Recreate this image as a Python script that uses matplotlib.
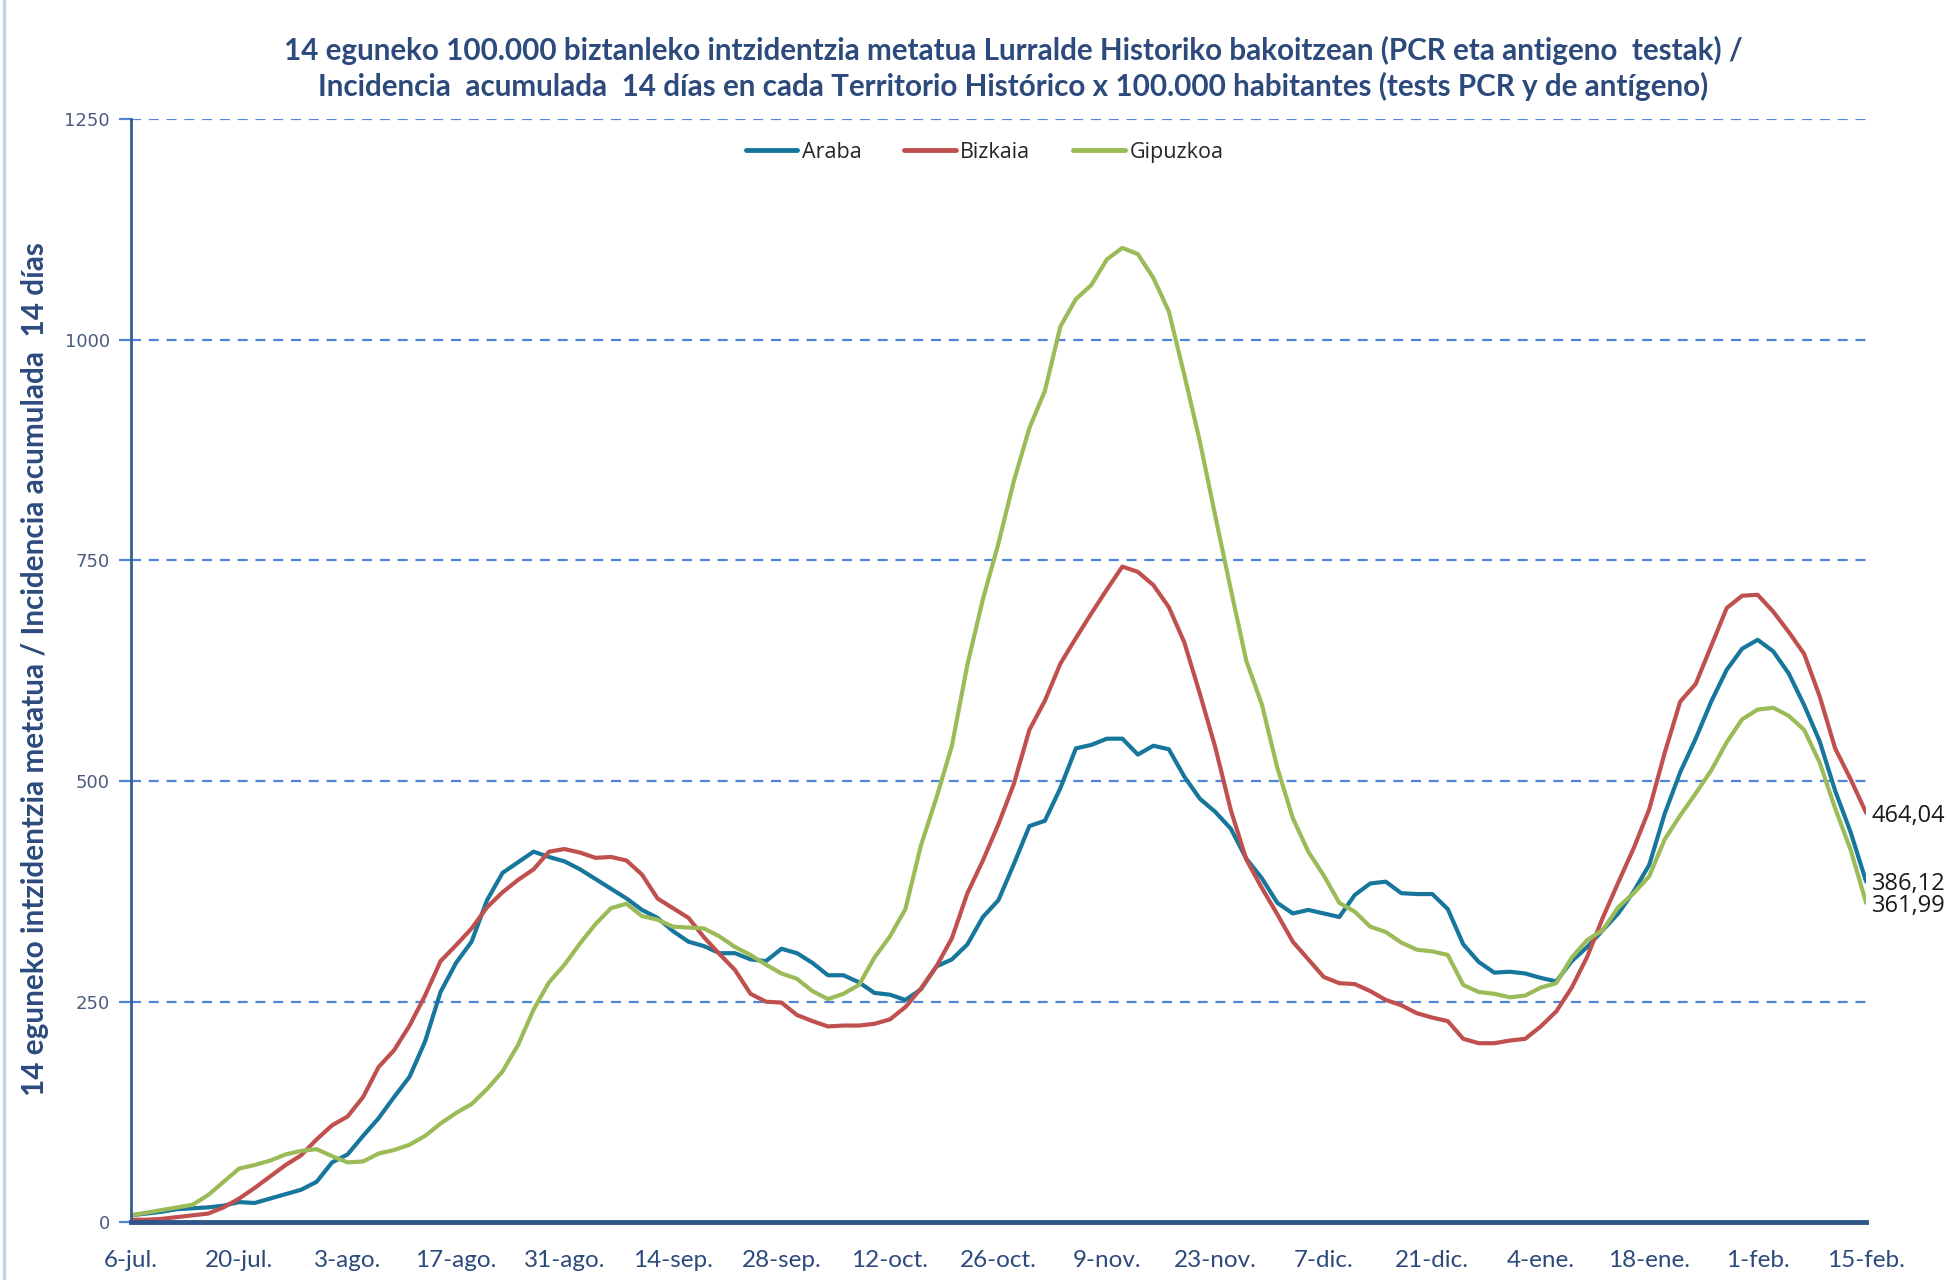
import numpy as np
import pandas as pd
import matplotlib
matplotlib.use("Agg")
import matplotlib.pyplot as plt

# values, one every 2 days from 6-jul-2020 to 15-feb-2021
fechas = pd.date_range("2020-07-06", "2021-02-15", freq="2D")

araba = [8, 10, 12, 15, 16, 17, 19, 23, 22, 27, 32, 37, 46, 68, 77, 98, 118, 142, 165, 205,
         261, 294, 318, 365, 396, 408, 420, 414, 409, 400, 389, 378, 367, 354, 345, 330, 318, 313, 305, 305,
         298, 296, 310, 305, 294, 280, 280, 272, 260, 258, 252, 264, 290, 298, 315, 346, 365, 406, 449, 455,
         492, 537, 541, 548, 548, 530, 540, 536, 505, 480, 465, 446, 412, 390, 362, 350, 354, 350, 346, 371,
         384, 386, 373, 372, 372, 355, 315, 295, 283, 284, 282, 277, 273, 296, 312, 331, 350, 375, 405, 463,
         510, 548, 590, 626, 650, 660, 647, 622, 586, 545, 489, 442, 386.12]

bizkaia = [3, 3, 4, 6, 8, 10, 17, 27, 39, 52, 65, 76, 94, 110, 120, 142, 176, 195, 223, 257,
           296, 314, 333, 357, 374, 388, 400, 420, 423, 419, 413, 414, 410, 394, 367, 356, 345, 323, 304, 286,
           259, 250, 249, 235, 228, 222, 223, 223, 225, 230, 244, 265, 290, 322, 373, 410, 451, 497, 558, 591,
           633, 662, 690, 717, 743, 737, 722, 697, 657, 599, 538, 467, 411, 379, 349, 318, 298, 278, 271, 270,
           262, 252, 246, 237, 232, 228, 208, 203, 203, 206, 208, 222, 239, 266, 301, 345, 385, 424, 468, 532,
           590, 610, 653, 696, 710, 711, 692, 669, 644, 596, 537, 502, 464.04]

gipuzkoa = [8, 11, 14, 17, 20, 31, 46, 61, 65, 70, 77, 81, 83, 75, 68, 69, 78, 82, 88, 98,
            112, 124, 134, 151, 171, 201, 241, 272, 292, 316, 338, 356, 361, 347, 343, 335, 334, 333, 324, 312,
            303, 292, 282, 276, 262, 253, 259, 269, 300, 324, 355, 427, 481, 540, 632, 706, 769, 840, 900, 942,
            1015, 1046, 1062, 1091, 1104, 1097, 1070, 1032, 960, 885, 800, 717, 636, 587, 515, 458, 420, 393, 362, 352,
            335, 329, 317, 309, 307, 303, 269, 261, 259, 255, 257, 266, 271, 300, 320, 331, 357, 373, 392, 434,
            461, 486, 512, 544, 570, 581, 583, 574, 558, 521, 469, 422, 361.99]

etiquetas = ["6-jul.", "20-jul.", "3-ago.", "17-ago.", "31-ago.", "14-sep.", "28-sep.", "12-oct.",
             "26-oct.", "9-nov.", "23-nov.", "7-dic.", "21-dic.", "4-ene.", "18-ene.", "1-feb.", "15-feb."]

series = {"Araba": araba, "Bizkaia": bizkaia, "Gipuzkoa": gipuzkoa}
colores = {"Araba": "#17769C", "Bizkaia": "#C0504D", "Gipuzkoa": "#9BBB59"}

titulo = ("14 eguneko 100.000 biztanleko intzidentzia metatua Lurralde Historiko bakoitzean (PCR eta antigeno  testak) /\n"
          "Incidencia  acumulada  14 días en cada Territorio Histórico x 100.000 habitantes (tests PCR y de antígeno)")
ytitulo = "14 eguneko intzidentzia metatua / Incidencia acumulada  14 días"

azul_osc = "#2C4A7C"

fig = plt.figure(figsize=(19.5, 12.8), dpi=100)
ax = fig.add_axes([0.067, 0.045, 0.890, 0.862])

for nombre, vals in series.items():
    ax.plot(fechas, vals, color=colores[nombre], lw=3.0, label=nombre,
            solid_joinstyle="round", solid_capstyle="round")

ax.set_xlim(fechas[0], fechas[-1])
ax.set_ylim(0, 1250)
ax.set_yticks([0, 250, 500, 750, 1000, 1250])
ax.grid(axis="y", color="#4F86D9", lw=1.6, linestyle=(0, (4.5, 3.5)))
ax.set_axisbelow(True)

ticks = pd.date_range(fechas[0], periods=len(etiquetas), freq="14D")
ax.set_xticks(ticks)
ax.set_xticklabels(etiquetas, fontfamily="Lato", fontsize=17.5, color=azul_osc)
ax.tick_params(axis="x", length=0, pad=20)
ax.tick_params(axis="y", length=9, width=1.6, color="#4F86D9", pad=6,
               labelsize=13, labelcolor="#4A5B7D")

for s in ["top", "right"]:
    ax.spines[s].set_visible(False)
ax.spines["left"].set_color("#375D92")
ax.spines["left"].set_linewidth(2)
ax.spines["bottom"].set_color("#2F5688")
ax.spines["bottom"].set_linewidth(3.5)

leg = ax.legend(loc="upper center", bbox_to_anchor=(0.492, 0.997), ncol=3, frameon=False,
                handlelength=2.4, handletextpad=0.2, columnspacing=2.0,
                prop={"family": "Open Sans", "size": 15.5})
for t in leg.get_texts():
    t.set_color("#262626")
for h in leg.get_lines():
    h.set_linewidth(3.5)

# valores finales
for nombre, vals in series.items():
    ax.annotate(f"{vals[-1]:.2f}".replace(".", ","), (fechas[-1], vals[-1]),
                xytext=(4, -2), textcoords="offset points", va="center", ha="left",
                fontsize=17, fontfamily="Open Sans", color="#1a1a1a", annotation_clip=False)

fig.text(0.5195, 0.9465, titulo, ha="center", va="center", fontsize=21.3, fontweight="bold",
         fontfamily="Lato", color=azul_osc, linespacing=1.3)
fig.text(0.018, 0.477, ytitulo, rotation=90, ha="center", va="center", fontsize=21.4,
         fontweight="bold", fontfamily="Lato", color=azul_osc)

fig.add_artist(plt.Line2D([0.002, 0.002], [0, 1], color="#C5D5EA", lw=2.5))

fig.savefig("out.png", dpi=100)
